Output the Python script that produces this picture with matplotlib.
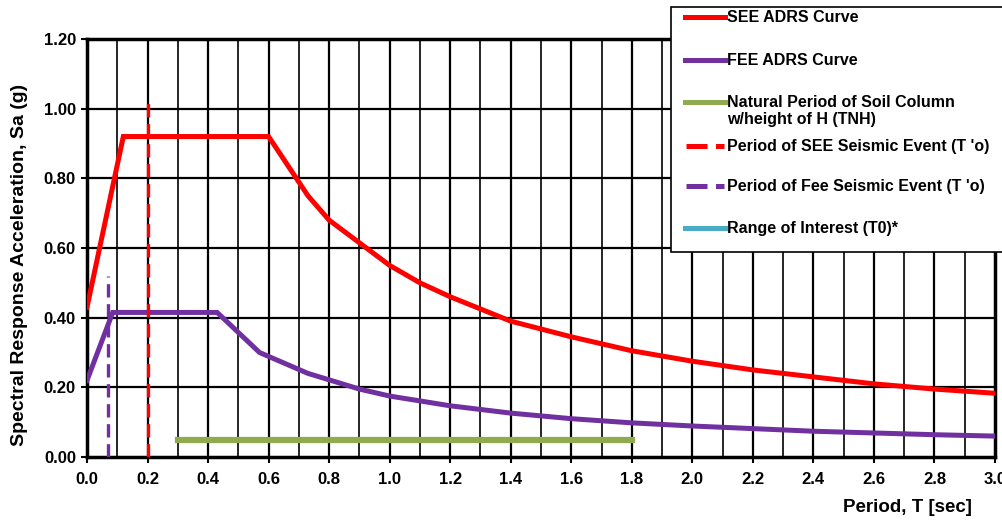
import matplotlib.pyplot as plt
from matplotlib.lines import Line2D
from matplotlib.patches import Rectangle

# ADRS curves
see_T = [0.0, 0.12, 0.60, 0.73, 0.80, 0.90, 1.00, 1.10, 1.20, 1.40, 1.60, 1.80, 2.00, 2.20, 2.40, 2.60, 2.80, 3.00]
see_Sa = [0.43, 0.92, 0.92, 0.75, 0.68, 0.615, 0.55, 0.50, 0.46, 0.39, 0.345, 0.305, 0.275, 0.25, 0.23, 0.21, 0.195, 0.183]

fee_T = [0.0, 0.085, 0.43, 0.57, 0.73, 0.90, 1.00, 1.20, 1.40, 1.60, 1.80, 2.00, 2.40, 2.80, 3.00]
fee_Sa = [0.22, 0.415, 0.415, 0.30, 0.24, 0.195, 0.175, 0.147, 0.126, 0.11, 0.098, 0.089, 0.074, 0.064, 0.06]

# natural period of soil column (horizontal bar)
tnh_T = [0.3, 1.8]
tnh_Sa = [0.05, 0.05]

# period of seismic events (vertical dashed)
see_T0 = 0.2
see_T0_top = 1.02
fee_T0 = 0.07
fee_T0_top = 0.52

x_ticks = [0.0, 0.2, 0.4, 0.6, 0.8, 1.0, 1.2, 1.4, 1.6, 1.8, 2.0, 2.2, 2.4, 2.6, 2.8, 3.0]
y_ticks = [0.0, 0.2, 0.4, 0.6, 0.8, 1.0, 1.2]

plt.rcParams['font.family'] = ['Liberation Sans', 'DejaVu Sans']
plt.rcParams['font.weight'] = 'bold'

W, H = 1003, 520
fig = plt.figure(figsize=(W / 100, H / 100), dpi=100)
ax = fig.add_axes([87 / W, 1 - 457 / H, 908 / W, 418 / H])

# grid
for i in range(1, 30):
    ax.axvline(i / 10, color='black', lw=1.2 if i % 2 else 1.6, zorder=1)
for y in y_ticks[1:]:
    ax.axhline(y, color='black', lw=1.6, zorder=1)

ax.plot(see_T, see_Sa, color='#ff0000', lw=3.6, solid_joinstyle='miter', zorder=3)
ax.plot(fee_T, fee_Sa, color='#7030a0', lw=3.6, solid_joinstyle='miter', zorder=3)
ax.plot(tnh_T, tnh_Sa, color='#8faa4f', lw=4.5, zorder=3)
ax.plot([see_T0, see_T0], [0, see_T0_top], color='#ff0000', lw=2.4, ls=(0, (4, 2)), zorder=4)
ax.plot([fee_T0, fee_T0], [0, fee_T0_top], color='#7030a0', lw=2.4, ls=(0, (4, 2)), zorder=4)

ax.set_xlim(0, 3.0)
ax.set_ylim(0, 1.2)
ax.set_xticks(x_ticks)
ax.set_yticks(y_ticks)
ax.set_xticklabels([f"{v:.1f}" for v in x_ticks], fontsize=12, fontweight='bold')
ax.set_yticklabels([f"{v:.2f}" for v in y_ticks], fontsize=12, fontweight='bold')
ax.tick_params(direction='out', length=4, width=1.5, pad=4)
ax.tick_params(axis='x', pad=7)
for s in ax.spines.values():
    s.set_linewidth(2.5)

fig.text(20 / W, 1 - 265 / H, "Spectral Response Acceleration, Sa (g)", fontsize=14,
         fontweight='bold', rotation=90, ha='center', va='center')
fig.text(972 / W, 1 - 507 / H, "Period, T [sec]", fontsize=13.5, fontweight='bold',
         ha='right', va='center')

# legend drawn by hand so the uneven row spacing matches
fig.patches.append(Rectangle((671 / W, 1 - 252 / H), 340 / W, 245 / H, transform=fig.transFigure,
                             facecolor='white', edgecolor='black', lw=1.2, zorder=5))
leg_rows = [
    ("SEE ADRS Curve", '#ff0000', '-', 17),
    ("FEE ADRS Curve", '#7030a0', '-', 60),
    ("Natural Period of Soil Column\nw/height of H (TNH)", '#8faa4f', '-', 102),
    ("Period of SEE Seismic Event (T 'o)", '#ff0000', '--', 146),
    ("Period of Fee Seismic Event (T 'o)", '#7030a0', '--', 186),
    ("Range of Interest (T0)*", '#4bacc6', '-', 228),
]
for label, color, style, ypx in leg_rows:
    y = 1 - ypx / H
    if style == '--':
        fig.add_artist(Line2D([686 / W, 724 / W], [y, y], transform=fig.transFigure, color=color,
                              lw=3.6, ls=(0, (4.2, 1.7)), zorder=6))
    else:
        fig.add_artist(Line2D([685 / W, 725 / W], [y, y], transform=fig.transFigure, color=color,
                              lw=3.6, zorder=6))
    fig.text(727 / W, y + 7 / H, label, fontsize=11.5, fontweight='bold', ha='left', va='top',
             linespacing=1.15, zorder=6)

fig.savefig("out.png", dpi=100)
